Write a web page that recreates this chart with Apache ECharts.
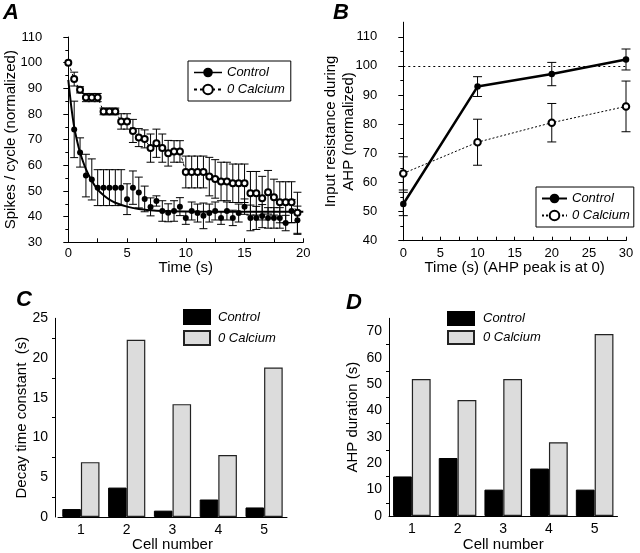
<!DOCTYPE html>
<html>
<head>
<meta charset="utf-8">
<script src="https://cdn.jsdelivr.net/npm/echarts@6/dist/echarts.min.js"></script>
<style>
  html, body { margin: 0; padding: 0; background: #fff; }
  #main { width: 640px; height: 553px; }
</style>
</head>
<body>
<div id="main"></div>
<script>
// ---------------- panel A : spikes per cycle
var timeA = [0, 0.5, 1, 1.5, 2, 2.5, 3, 3.5, 4, 4.5, 5, 5.5, 6, 6.5, 7, 7.5, 8, 8.5, 9, 9.5,
             10, 10.5, 11, 11.5, 12, 12.5, 13, 13.5, 14, 14.5, 15, 15.5, 16, 16.5, 17, 17.5, 18, 18.5, 19, 19.5];
var ctrlA = [100, 74, 65, 56, 54.5, 51.3, 51.3, 51.3, 51.3, 51.3, 46.8, 51.3, 49.4, 46.9, 43.8, 46.1, 42.2, 41.5, 42.2, 43.9,
             39.5, 42.2, 41.4, 40.3, 41.4, 42.2, 39.5, 42.2, 39.5, 41.4, 43.9, 39.5, 39.5, 40.2, 39.5, 39.5, 39.5, 37.5, 42.2, 38.6];
var ctrlErrA = [0, 11, 5.7, 8.3, 8, 7, 7, 7, 7, 7, 6, 6.5, 6, 5, 3.5, 2, 4, 3.5, 4, 3.5,
                2.5, 3.5, 3.5, 5, 3.5, 3.5, 2.5, 3.5, 3, 3.5, 3, 5, 4.5, 4.5, 4, 4, 4, 3, 4.5, 5.5];
var calcA = [100, 93.6, 89.4, 86.4, 86.4, 86.4, 81, 81, 81, 77.1, 77.1, 73.4, 70.8, 70.3, 66.7, 68.6, 66.7, 64.7, 65.4, 65.4,
             57.4, 57.4, 57.4, 57.4, 55.6, 54.7, 53.7, 53.7, 53, 53, 53, 49.1, 49.1, 47.2, 49.5, 47.6, 45.6, 45.6, 45.6, 41.5];
var calcErrA = [0, 2.7, 1.2, 1.6, 1.6, 1.6, 1.3, 1.3, 1.3, 3, 3, 4.5, 3.5, 3.5, 5.5, 5.5, 5.5, 5, 4.2, 4.2,
                6.2, 6.2, 6.2, 6.2, 7.5, 7.5, 7.5, 7.5, 7.5, 7.5, 7.5, 8.5, 8.5, 8.5, 8.5, 7, 8, 8, 8, 8];
// exponential fit
var fitT = [0, 0.25, 0.5, 0.75, 1, 1.5, 2, 2.5, 3, 3.5, 4, 5, 6, 7, 8, 10, 12, 15, 20];
var fitV = [93.3, 83, 75, 69.5, 65, 58.5, 54, 50.5, 48.3, 46.6, 45.4, 43.9, 43, 42.5, 42.2, 42, 41.9, 41.9, 41.9];

// ---------------- panel B : input resistance
var timeB = [0, 10, 20, 30];
var ctrlB = [52.6, 92.9, 97.2, 102.2];
var ctrlErrB = [4, 3.4, 4, 3.6];
var calcB = [63.1, 73.8, 80.5, 86.1];
var calcErrB = [5.7, 7.9, 6.6, 8.7];
var refLineB = 100;

// ---------------- panels C, D : per cell
var cells = ['1', '2', '3', '4', '5'];
var ctrlC = [1.0, 3.7, 0.8, 2.2, 1.2];
var calcC = [6.9, 22.3, 14.2, 7.8, 18.8];
var ctrlD = [15, 22, 10, 18, 10];
var calcD = [52, 44, 52, 28, 69];

var FONT = '"Liberation Sans", Arial, Helvetica, sans-serif';
var INK = '#000';
var GREY = '#dcdcdc';

function pairs(xs, ys) {
    return xs.map(function (x, i) { return [x, ys[i]]; });
}
function errData(xs, ys, es) {
    var out = [];
    xs.forEach(function (x, i) {
        if (es[i] > 0) out.push([x, ys[i] - es[i], ys[i] + es[i]]);
    });
    return out;
}
// error bar with caps
function errRender(capW) {
    return function (params, api) {
        var x = api.value(0);
        var top = api.coord([x, api.value(2)]);
        var bot = api.coord([x, api.value(1)]);
        var h = capW / 2;
        var st = { stroke: INK, lineWidth: 1 };
        return {
            type: 'group',
            children: [
                { type: 'line', shape: { x1: top[0], y1: top[1], x2: bot[0], y2: bot[1] }, style: st },
                { type: 'line', shape: { x1: top[0] - h, y1: top[1], x2: top[0] + h, y2: top[1] }, style: st },
                { type: 'line', shape: { x1: bot[0] - h, y1: bot[1], x2: bot[0] + h, y2: bot[1] }, style: st }
            ]
        };
    };
}

var axisLine = { show: true, lineStyle: { color: INK, width: 1 } };
var lbl = { color: INK, fontFamily: FONT, fontSize: 13 };
var lblBig = { color: INK, fontFamily: FONT, fontSize: 14 };
var nameStyle = { color: INK, fontFamily: FONT, fontSize: 15 };
var legendText = { color: INK, fontFamily: FONT, fontSize: 13, fontStyle: 'italic' };
var letter = { fontSize: 22, fontWeight: 'bold', fontStyle: 'italic', color: INK, fontFamily: FONT };
var strip = function (n) { return n.split('|')[0]; };

var chart = echarts.init(document.getElementById('main'), null, { renderer: 'canvas' });

var option = {
    backgroundColor: '#fff',
    animation: false,
    textStyle: { fontFamily: FONT },
    title: [
        { text: 'A', left: 3, top: 2, padding: 0, textStyle: letter },
        { text: 'B', left: 333, top: 2, padding: 0, textStyle: letter },
        { text: 'C', left: 16, top: 289, padding: 0, textStyle: letter },
        { text: 'D', left: 346, top: 292, padding: 0, textStyle: letter }
    ],
    grid: [
        { left: 68.3, top: 37, width: 235, height: 205.3 },
        { left: 403.3, top: 22.2, width: 222.7, height: 218.5 },
        { left: 58, top: 318.3, width: 229, height: 200.7 },
        { left: 389, top: 318.3, width: 228.5, height: 200.7 }
    ],
    legend: [
        {
            left: 188, top: 61, orient: 'vertical', padding: [5, 6, 5, 5],
            itemWidth: 28, itemHeight: 12, itemGap: 4,
            borderColor: INK, borderWidth: 1, selectedMode: false,
            textStyle: legendText, formatter: strip,
            data: [
                { name: 'Control|A', lineStyle: { opacity: 1, width: 1.5, color: INK } },
                { name: '0 Calcium|A' }
            ]
        },
        {
            left: 536, top: 187, orient: 'vertical', padding: [5, 4, 5, 5],
            itemWidth: 25, itemHeight: 12, itemGap: 4,
            borderColor: INK, borderWidth: 1, selectedMode: false,
            textStyle: legendText, formatter: strip,
            data: ['Control|B', '0 Calcium|B']
        },
        {
            left: 183, top: 309, orient: 'vertical', padding: 0,
            itemWidth: 26, itemHeight: 14, itemGap: 5, icon: 'rect', selectedMode: false,
            textStyle: Object.assign({ padding: [0, 0, 0, 3] }, legendText), formatter: strip,
            data: ['Control|C', '0 Calcium|C']
        },
        {
            left: 447, top: 311, orient: 'vertical', padding: 0,
            itemWidth: 26, itemHeight: 13, itemGap: 4, icon: 'rect', selectedMode: false,
            textStyle: Object.assign({ padding: [0, 0, 0, 4] }, legendText), formatter: strip,
            data: ['Control|D', '0 Calcium|D']
        }
    ],
    xAxis: [
        {
            gridIndex: 0, type: 'value', min: 0, max: 20, interval: 2.5,
            axisLine: axisLine, splitLine: { show: false },
            axisTick: { inside: true, length: 4, lineStyle: { color: INK } },
            axisLabel: Object.assign({ margin: 5, formatter: function (v) { return v % 5 === 0 ? v : ''; } }, lbl),
            name: 'Time (s)', nameLocation: 'middle', nameGap: 18, nameMoveOverlap: false, nameTextStyle: nameStyle
        },
        {
            gridIndex: 1, type: 'value', min: 0, max: 30, interval: 2.5,
            axisLine: axisLine, splitLine: { show: false },
            axisTick: { inside: true, length: 4, lineStyle: { color: INK } },
            axisLabel: Object.assign({ margin: 6, formatter: function (v) { return v % 5 === 0 ? v : ''; } }, lbl),
            name: 'Time (s) (AHP peak is at 0)', nameLocation: 'middle', nameGap: 20, nameMoveOverlap: false, nameTextStyle: nameStyle
        },
        {
            gridIndex: 2, type: 'category', data: cells,
            axisLine: axisLine,
            axisTick: { length: 3, lineStyle: { color: INK } },
            axisLabel: Object.assign({ margin: 6 }, lblBig),
            name: 'Cell number', nameLocation: 'middle', nameGap: 20, nameMoveOverlap: false, nameTextStyle: nameStyle
        },
        {
            gridIndex: 3, type: 'category', data: cells,
            axisLine: axisLine,
            axisTick: { length: 3, lineStyle: { color: INK } },
            axisLabel: Object.assign({ margin: 6 }, lblBig),
            name: 'Cell number', nameLocation: 'middle', nameGap: 21, nameMoveOverlap: false, nameTextStyle: nameStyle
        }
    ],
    yAxis: [
        {
            gridIndex: 0, type: 'value', min: 30, max: 110, interval: 10, offset: 19,
            axisLine: axisLine, splitLine: { show: false },
            axisTick: { length: 5, lineStyle: { color: INK } },
            minorTick: { show: true, splitNumber: 2, length: 3, lineStyle: { color: INK } },
            axisLabel: Object.assign({ margin: 7 }, lbl),
            name: 'Spikes / cycle (normalized)', nameLocation: 'middle', nameGap: 31, nameMoveOverlap: false, nameTextStyle: nameStyle
        },
        {
            gridIndex: 1, type: 'value', min: 40, max: 115, interval: 10, offset: 19,
            axisLine: axisLine, splitLine: { show: false },
            axisTick: { length: 5, lineStyle: { color: INK }, customValues: [40, 50, 60, 70, 80, 90, 100, 110] },
            minorTick: { show: true, splitNumber: 2, length: 3, lineStyle: { color: INK } },
            axisLabel: Object.assign({ margin: 7, customValues: [40, 50, 60, 70, 80, 90, 100, 110] }, lbl),
            name: 'Input resistance during\nAHP (normalized)', nameLocation: 'middle', nameGap: 26, nameMoveOverlap: false,
            nameTextStyle: Object.assign({ lineHeight: 18 }, nameStyle)
        },
        {
            gridIndex: 2, type: 'value', min: 0, max: 25, interval: 5, offset: 3,
            axisLine: axisLine, splitLine: { show: false },
            axisTick: { length: 5, lineStyle: { color: INK } },
            minorTick: { show: true, splitNumber: 2, length: 3, lineStyle: { color: INK } },
            axisLabel: Object.assign({ margin: 7 }, lblBig),
            name: 'Decay time constant  (s)', nameLocation: 'middle', nameGap: 25.5, nameMoveOverlap: false, nameTextStyle: nameStyle
        },
        {
            gridIndex: 3, type: 'value', min: 0, max: 75, interval: 10,
            axisLine: axisLine, splitLine: { show: false },
            axisTick: { length: 5, lineStyle: { color: INK }, customValues: [0, 10, 20, 30, 40, 50, 60, 70] },
            minorTick: { show: true, splitNumber: 2, length: 3, lineStyle: { color: INK } },
            axisLabel: Object.assign({ margin: 7, customValues: [0, 10, 20, 30, 40, 50, 60, 70] }, lblBig),
            name: 'AHP duration (s)', nameLocation: 'middle', nameGap: 28.5, nameMoveOverlap: false, nameTextStyle: nameStyle
        }
    ],
    series: [
        // ---- A
        { type: 'custom', xAxisIndex: 0, yAxisIndex: 0, renderItem: errRender(8), data: errData(timeA, ctrlA, ctrlErrA), clip: false, silent: true, z: 1 },
        { type: 'custom', xAxisIndex: 0, yAxisIndex: 0, renderItem: errRender(8), data: errData(timeA, calcA, calcErrA), clip: false, silent: true, z: 1 },
        {
            name: 'fit', type: 'line', xAxisIndex: 0, yAxisIndex: 0, data: pairs(fitT, fitV),
            showSymbol: false, smooth: 0.3, lineStyle: { color: INK, width: 2 }, z: 2
        },
        {
            name: 'Control|A', type: 'line', xAxisIndex: 0, yAxisIndex: 0, data: pairs(timeA, ctrlA),
            symbol: 'circle', symbolSize: 6, itemStyle: { color: INK },
            lineStyle: { color: INK, opacity: 0 }, z: 3
        },
        {
            name: '0 Calcium|A', type: 'line', xAxisIndex: 0, yAxisIndex: 0, data: pairs(timeA, calcA),
            symbol: 'emptyCircle', symbolSize: 6, itemStyle: { color: INK, borderWidth: 1 },
            lineStyle: { color: INK, width: 1, type: [3, 3] }, z: 4
        },
        // ---- B
        { type: 'custom', xAxisIndex: 1, yAxisIndex: 1, renderItem: errRender(9), data: errData(timeB, ctrlB, ctrlErrB), clip: false, silent: true, z: 1 },
        { type: 'custom', xAxisIndex: 1, yAxisIndex: 1, renderItem: errRender(9), data: errData(timeB, calcB, calcErrB), clip: false, silent: true, z: 1 },
        {
            name: 'Control|B', type: 'line', xAxisIndex: 1, yAxisIndex: 1, data: pairs(timeB, ctrlB),
            symbol: 'circle', symbolSize: 6.5, itemStyle: { color: INK },
            lineStyle: { color: INK, width: 2.5 }, z: 3
        },
        {
            name: '0 Calcium|B', type: 'line', xAxisIndex: 1, yAxisIndex: 1, data: pairs(timeB, calcB),
            symbol: 'emptyCircle', symbolSize: 6.5, itemStyle: { color: INK, borderWidth: 1 },
            lineStyle: { color: INK, width: 1, type: [2, 2] }, z: 4,
            markLine: {
                silent: true, symbol: 'none', label: { show: false },
                lineStyle: { color: INK, width: 1, type: [2, 3] },
                data: [{ yAxis: refLineB }]
            }
        },
        // ---- C
        {
            name: 'Control|C', type: 'bar', xAxisIndex: 2, yAxisIndex: 2, data: ctrlC,
            barWidth: 18.6, barGap: '0%', itemStyle: { color: INK, borderColor: INK, borderWidth: 1 }
        },
        {
            name: '0 Calcium|C', type: 'bar', xAxisIndex: 2, yAxisIndex: 2, data: calcC,
            barWidth: 18.6, barGap: '0%', itemStyle: { color: GREY, borderColor: '#222', borderWidth: 1.2 }
        },
        // ---- D
        {
            name: 'Control|D', type: 'bar', xAxisIndex: 3, yAxisIndex: 3, data: ctrlD,
            barWidth: 18.8, barGap: '0%', itemStyle: { color: INK, borderColor: INK, borderWidth: 1 }
        },
        {
            name: '0 Calcium|D', type: 'bar', xAxisIndex: 3, yAxisIndex: 3, data: calcD,
            barWidth: 18.8, barGap: '0%', itemStyle: { color: GREY, borderColor: '#222', borderWidth: 1.2 }
        }
    ]
};

chart.setOption(option);
</script>
</body>
</html>
